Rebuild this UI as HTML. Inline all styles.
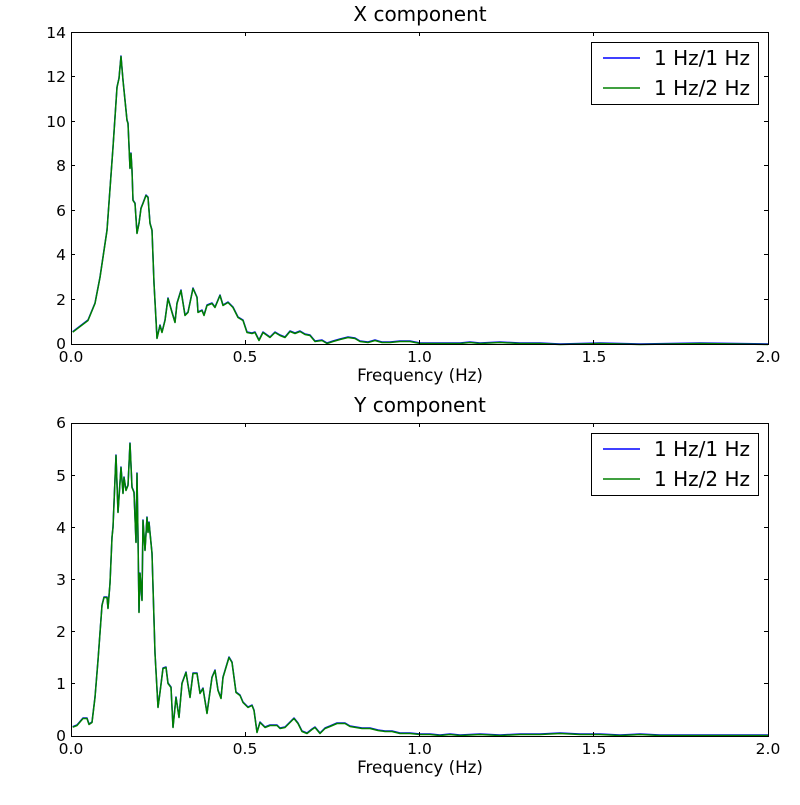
<!DOCTYPE html>
<html><head><meta charset="utf-8"><style>
body{margin:0;background:#fff}
svg text{font-family:"DejaVu Sans","Liberation Sans",sans-serif;fill:#000}
</style></head><body>
<svg width="800" height="800" viewBox="0 0 800 800" xmlns="http://www.w3.org/2000/svg">
<rect width="800" height="800" fill="#fff"/>
<defs>
<polyline id="cx" fill="none" stroke-width="1.5" stroke-linejoin="round" points="72.7,331.7 88,320 95,303 100,277 107,230 113,147 117,87 119,78 121,56 123,80 127,120 128,123 130,168 131,153 132,170 133,200 135,203 137,233 139,223 141,208 143,203 146,195 148,197 150,223 152,230 154,283 157,338 160,325 162,332 165,320 168,298 172,312 175,322 177,303 181,290 185,315 188,312 193,288 197,297 198,312 202,310 204,315 207,305 212,303 215,307 220,295 223,305 228,302 233,307 238,317 243,320 247,332 252,333 255,332 259,340 263,332 270,337 275,332 280,335 285,337 290,331 295,333 300,331 305,334 310,335 315,341 322,340 327,343 333,341 340,339 348,337 355,338 360,341 368,342 375,340 382,342 390,342 400,341 410,341 420,343 440,343 460,343 470,342 480,343 500,342 520,343 540,343 560,344 600,343 640,344 700,343 768,344"/>
<polyline id="cy" fill="none" stroke-width="1.5" stroke-linejoin="round" points="72.7,726.7 77,725 83,718 87,718 89,724 92,722 95,697 98,660 102,605 104,597 107,597 108,608 110,583 112,537 113,527 116,455 118,512 121,467 123,493 124,477 126,490 128,485 130,443 132,487 134,492 136,542 137,473 138,537 139,612 140,573 142,600 143,520 145,550 147,517 148,532 149,522 152,553 155,653 158,707 160,692 163,668 166,667 168,683 171,687 173,727 176,697 179,717 182,683 186,672 190,697 193,673 197,673 200,693 203,688 207,713 212,677 215,670 218,690 221,698 223,677 229,657 232,662 236,692 240,695 243,702 248,707 252,705 254,710 257,732 260,722 265,727 270,725 277,725 280,728 285,727 290,722 294,718 298,723 302,731 307,733 312,729 315,727 320,733 325,728 330,726 337,723 345,723 350,726 356,727 362,728 370,728 378,730 385,731 392,731 400,733 410,733 420,734 430,734 440,735 450,734 460,735 480,734 500,735 520,734 540,734 560,733 580,734 600,734 620,735 640,734 660,735 680,735 700,735 720,735 740,735 768,735"/>
</defs>
<use href="#cx" stroke="#0000ff"/>
<use href="#cx" stroke="#008000" transform="translate(0,0.5)"/>
<rect x="71.5" y="32.5" width="697" height="312" fill="none" stroke="#000" stroke-width="1"/>
<g stroke="#000" stroke-width="1">
<line x1="245.5" y1="344" x2="245.5" y2="340"/><line x1="245.5" y1="32" x2="245.5" y2="36"/>
<line x1="419.5" y1="344" x2="419.5" y2="340"/><line x1="419.5" y1="32" x2="419.5" y2="36"/>
<line x1="593.5" y1="344" x2="593.5" y2="340"/><line x1="593.5" y1="32" x2="593.5" y2="36"/>
<line x1="71" y1="299.5" x2="75" y2="299.5"/><line x1="768" y1="299.5" x2="764" y2="299.5"/>
<line x1="71" y1="254.5" x2="75" y2="254.5"/><line x1="768" y1="254.5" x2="764" y2="254.5"/>
<line x1="71" y1="210.5" x2="75" y2="210.5"/><line x1="768" y1="210.5" x2="764" y2="210.5"/>
<line x1="71" y1="165.5" x2="75" y2="165.5"/><line x1="768" y1="165.5" x2="764" y2="165.5"/>
<line x1="71" y1="121.5" x2="75" y2="121.5"/><line x1="768" y1="121.5" x2="764" y2="121.5"/>
<line x1="71" y1="76.5" x2="75" y2="76.5"/><line x1="768" y1="76.5" x2="764" y2="76.5"/>
</g>
<g font-size="15.5" text-anchor="end">
<text x="66" y="349">0</text><text x="66" y="305">2</text><text x="66" y="260">4</text><text x="66" y="216">6</text><text x="66" y="171">8</text><text x="66" y="127">10</text><text x="66" y="82">12</text><text x="66" y="38">14</text>
</g>
<g font-size="15.5" text-anchor="middle">
<text x="71" y="362">0.0</text><text x="245" y="362">0.5</text><text x="419.5" y="362">1.0</text><text x="594" y="362">1.5</text><text x="768" y="362">2.0</text>
</g>
<text x="420" y="381" font-size="16.7" text-anchor="middle">Frequency (Hz)</text>
<text x="420" y="21" font-size="20" text-anchor="middle">X component</text>
<rect x="591.5" y="42.5" width="167" height="62" fill="#fff" stroke="#000"/>
<line x1="603" y1="58" x2="640" y2="58" stroke="#0000ff" stroke-width="1.5"/>
<line x1="603" y1="88" x2="640" y2="88" stroke="#008000" stroke-width="1.5"/>
<text x="654" y="65" font-size="20">1 Hz/1 Hz</text>
<text x="654" y="95" font-size="20">1 Hz/2 Hz</text>

<use href="#cy" stroke="#0000ff"/>
<use href="#cy" stroke="#008000" transform="translate(0,0.5)"/>
<rect x="71.5" y="423.5" width="697" height="313" fill="none" stroke="#000" stroke-width="1"/>
<g stroke="#000" stroke-width="1">
<line x1="245.5" y1="736" x2="245.5" y2="732"/><line x1="245.5" y1="423" x2="245.5" y2="427"/>
<line x1="419.5" y1="736" x2="419.5" y2="732"/><line x1="419.5" y1="423" x2="419.5" y2="427"/>
<line x1="593.5" y1="736" x2="593.5" y2="732"/><line x1="593.5" y1="423" x2="593.5" y2="427"/>
<line x1="71" y1="683.5" x2="75" y2="683.5"/><line x1="768" y1="683.5" x2="764" y2="683.5"/>
<line x1="71" y1="631.5" x2="75" y2="631.5"/><line x1="768" y1="631.5" x2="764" y2="631.5"/>
<line x1="71" y1="579.5" x2="75" y2="579.5"/><line x1="768" y1="579.5" x2="764" y2="579.5"/>
<line x1="71" y1="527.5" x2="75" y2="527.5"/><line x1="768" y1="527.5" x2="764" y2="527.5"/>
<line x1="71" y1="475.5" x2="75" y2="475.5"/><line x1="768" y1="475.5" x2="764" y2="475.5"/>
</g>
<g font-size="15.5" text-anchor="end">
<text x="66" y="741">0</text><text x="66" y="689">1</text><text x="66" y="637">2</text><text x="66" y="585">3</text><text x="66" y="533">4</text><text x="66" y="481">5</text><text x="66" y="428">6</text>
</g>
<g font-size="15.5" text-anchor="middle">
<text x="71" y="754">0.0</text><text x="245" y="754">0.5</text><text x="419.5" y="754">1.0</text><text x="594" y="754">1.5</text><text x="768" y="754">2.0</text>
</g>
<text x="420" y="773" font-size="16.7" text-anchor="middle">Frequency (Hz)</text>
<text x="420" y="412" font-size="20" text-anchor="middle">Y component</text>
<rect x="591.5" y="433.5" width="167" height="62" fill="#fff" stroke="#000"/>
<line x1="603" y1="449" x2="640" y2="449" stroke="#0000ff" stroke-width="1.5"/>
<line x1="603" y1="479" x2="640" y2="479" stroke="#008000" stroke-width="1.5"/>
<text x="654" y="456" font-size="20">1 Hz/1 Hz</text>
<text x="654" y="486" font-size="20">1 Hz/2 Hz</text>
</svg>
</body></html>
